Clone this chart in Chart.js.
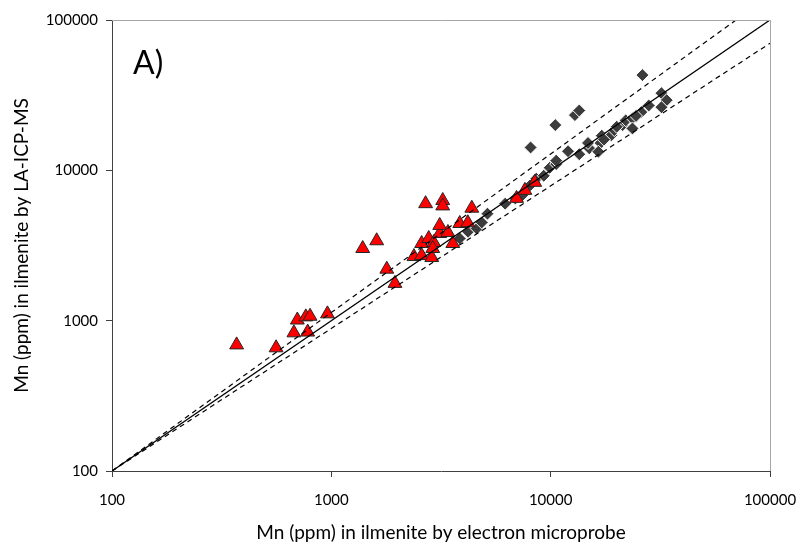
<!DOCTYPE html>
<html>
<head>
<meta charset="utf-8">
<script src="https://cdn.jsdelivr.net/npm/chart.js@4.4.1/dist/chart.umd.min.js"></script>
<style>
  html, body { margin: 0; padding: 0; background: #ffffff; }
  #wrap { width: 801px; height: 544px; position: relative; }
</style>
</head>
<body>
<div id="wrap"><canvas id="c" width="801" height="544"></canvas></div>
<script>
// Axis tick values (both axes are log 100..100000)
const tickValues = [100, 1000, 10000, 100000];

// Series 1: red triangles (electron microprobe Mn, LA-ICP-MS Mn)
const triX = [370, 560, 675, 780, 700, 765, 800, 960, 1390, 1610, 1790, 1950, 2380, 2580, 2580, 2780, 2930, 2870, 3120, 3400, 3580, 3120, 2900, 2690, 3220, 3220, 4370, 3850, 4190, 6990, 7630, 8460];
const triY = [690, 660, 830, 840, 1010, 1060, 1070, 1110, 3020, 3400, 2200, 1770, 2670, 2710, 3260, 3520, 3310, 2630, 3800, 3860, 3260, 4300, 3020, 6000, 6300, 5800, 5600, 4430, 4480, 6510, 7360, 8320];

// Series 2: dark grey diamonds
const diaX = [3850, 4200, 4600, 4850, 5150, 6200, 6900, 7400, 8100, 8600, 9300, 9900, 10600, 10600, 8100, 10500, 12900, 13500, 12000, 15000, 14800, 16900, 16500, 17100, 18900, 19500, 21300, 22000, 23600, 23600, 25900, 24500, 26200, 32000, 33800, 32000, 28000, 20000, 17500, 13500];
const diaY = [3520, 3900, 4100, 4500, 5150, 6000, 6500, 6800, 8000, 8800, 9200, 10400, 11000, 11600, 14200, 20000, 23300, 25000, 13400, 14000, 15200, 15200, 13300, 17000, 17100, 18500, 20000, 21500, 22200, 19000, 24400, 23000, 43000, 32600, 29300, 26300, 27000, 19500, 16000, 12800];

// Reference lines: 1:1 and +/-30% envelopes
const lineOneX = [100, 100000];
const lineOneY = [100, 100000];
const lineUpX = [100, 70000];
const lineUpY = [100, 100000];
const lineLowX = [100, 100000];
const lineLowY = [100, 70000];

const toPts = (xs, ys) => xs.map((x, i) => ({ x: x, y: ys[i] }));

const framePlugin = {
  id: 'frame',
  afterDatasetsDraw(chart) {
    const { ctx, chartArea: a } = chart;
    ctx.save();
    ctx.strokeStyle = '#a6a6a6';
    ctx.lineWidth = 1;
    ctx.beginPath();
    ctx.moveTo(a.left, a.top + 0.5);
    ctx.lineTo(a.right + 0.5, a.top + 0.5);
    ctx.lineTo(a.right + 0.5, a.bottom);
    ctx.stroke();
    ctx.restore();
  }
};

const labelPlugin = {
  id: 'panelLabel',
  afterDraw(chart) {
    const { ctx } = chart;
    ctx.save();
    ctx.fillStyle = '#000';
    ctx.font = '32px Lato';
    ctx.textBaseline = 'middle';
    ctx.textAlign = 'left';
    ctx.fillText('A)', 133, 64);
    ctx.restore();
  }
};

const logAxis = (isX) => ({
  type: 'logarithmic',
  min: 100,
  max: 100000,
  afterBuildTicks: (s) => { s.ticks = tickValues.map(v => ({ value: v })); },
  afterFit: (s) => {
    if (isX) { s.height = 73; s.paddingLeft = 0; s.paddingRight = 0; }
    else { s.width = 112; s.paddingTop = 0; s.paddingBottom = 0; }
  },
  border: { display: true, color: '#404040', width: 1 },
  grid: { display: true, drawOnChartArea: false, drawTicks: true, tickLength: 6, color: '#404040' },
  ticks: {
    autoSkip: false,
    maxRotation: 0,
    color: '#000',
    font: { family: 'Lato', size: 15 },
    padding: isX ? 14 : 8,
    callback: (v) => String(v)
  },
  title: {
    display: true,
    text: isX ? 'Mn (ppm) in ilmenite by electron microprobe' : 'Mn (ppm) in ilmenite by LA-ICP-MS',
    color: '#000',
    font: { family: 'Lato', size: 19 },
    padding: isX ? { top: 0, bottom: 0 } : { top: 10, bottom: 0 }
  }
});

new Chart(document.getElementById('c'), {
  type: 'scatter',
  data: {
    datasets: [
      { label: '1:1', data: toPts(lineOneX, lineOneY), showLine: true, pointRadius: 0, borderColor: '#000', borderWidth: 1.3, order: 0 },
      { label: '+30%', data: toPts(lineUpX, lineUpY), showLine: true, pointRadius: 0, borderColor: '#000', borderWidth: 1.2, borderDash: [5, 4], order: 0 },
      { label: '-30%', data: toPts(lineLowX, lineLowY), showLine: true, pointRadius: 0, borderColor: '#000', borderWidth: 1.2, borderDash: [5, 4], order: 0 },
      { label: 'triangles', data: toPts(triX, triY), pointStyle: 'triangle', pointRadius: 8, backgroundColor: '#ff0000', borderColor: '#262626', borderWidth: 1, order: 1 },
      { label: 'diamonds', data: toPts(diaX, diaY), pointStyle: 'rectRot', pointRadius: 6.5, backgroundColor: '#3c3c3c', borderColor: '#ffffff', borderWidth: 1, order: 2 }
    ]
  },
  options: {
    responsive: false,
    animation: false,
    devicePixelRatio: 1,
    layout: { padding: { left: 0, right: 31, top: 20, bottom: 0 } },
    plugins: { legend: { display: false }, tooltip: { enabled: false } },
    scales: { x: logAxis(true), y: logAxis(false) }
  },
  plugins: [framePlugin, labelPlugin]
});
</script>
</body>
</html>
